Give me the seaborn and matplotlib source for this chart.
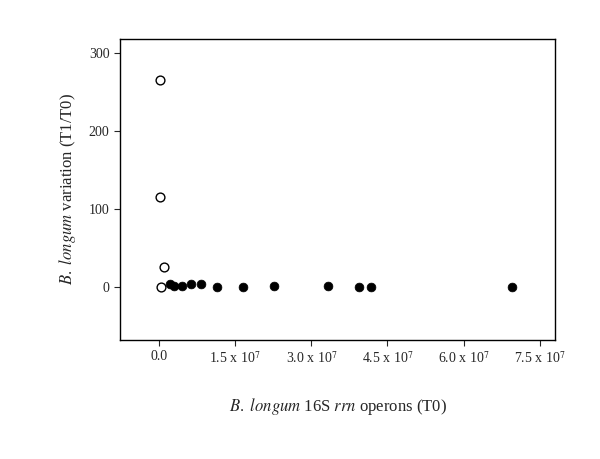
import numpy as np
import matplotlib
matplotlib.use("Agg")
import matplotlib.pyplot as plt
import seaborn as sns

# T0 operon counts and T1/T0 variation
open_x = [0.1e6, 0.2e6, 1.0e6, 0.3e6]
open_y = [266, 115, 25, 0]
filled_x = [2.2e6, 3.0e6, 4.5e6, 6.3e6, 8.3e6, 11.4e6, 16.6e6, 22.7e6, 33.3e6, 39.4e6, 41.8e6, 69.6e6]
filled_y = [4, 1, 1, 4, 3, 0, 0, 1, 1, 0, 0, 0]
xticks = [0, 1.5e7, 3.0e7, 4.5e7, 6.0e7, 7.5e7]
xlabels = ["0.0", r"1.5 x 10$^7$", r"3.0 x 10$^7$", r"4.5 x 10$^7$", r"6.0 x 10$^7$", r"7.5 x 10$^7$"]

sns.set_style("white")
plt.rcParams['font.family'] = ['Liberation Serif', 'DejaVu Serif']
plt.rcParams['mathtext.fontset'] = 'stix'

fig = plt.figure(figsize=(6, 4.59), dpi=100)
ax = fig.add_axes([0.2, 0.26, 0.725, 0.655])
sns.scatterplot(x=open_x, y=open_y, ax=ax, s=40, facecolor="white", edgecolor="black", linewidth=1)
sns.scatterplot(x=filled_x, y=filled_y, ax=ax, s=40, color="black", edgecolor="black")

ax.set_xlim(-7.7e6, 78e6)
ax.set_ylim(-68, 318)
ax.set_xticks(xticks)
ax.set_xticklabels(xlabels, fontsize=10)
ax.set_yticks([0, 100, 200, 300])
ax.tick_params(labelsize=10, direction="out", length=4, bottom=True, left=True)
for s in ax.spines.values():
    s.set_color("black")
    s.set_linewidth(1)
ax.set_xlabel(r"$\it{B.\ longum}$ 16S $\it{rrn}$ operons (T0)", fontsize=12, labelpad=22)
ax.set_ylabel(r"$\it{B.\ longum}$ variation (T1/T0)", fontsize=12, labelpad=8)

fig.savefig("out.png", dpi=100)
